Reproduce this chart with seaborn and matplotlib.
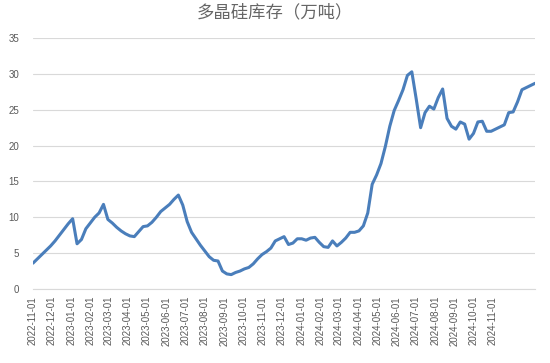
import matplotlib
matplotlib.use("Agg")
import matplotlib.pyplot as plt
import matplotlib.dates as mdates
import seaborn as sns
import pandas as pd
import numpy as np

start_date = "2022-11-01"
inventory = [
    3.6, 4.2, 4.8, 5.4, 6.0, 6.7, 7.5, 8.3, 9.1, 9.8,
    6.3, 6.9, 8.4, 9.2, 10.0, 10.6, 11.8, 9.7, 9.2, 8.6,
    8.1, 7.7, 7.4, 7.3, 8.0, 8.7, 8.8, 9.3, 10.0, 10.8,
    11.3, 11.8, 12.5, 13.1, 11.7, 9.4, 7.9, 7.0, 6.1, 5.3,
    4.5, 4.0, 3.9, 2.5, 2.1, 2.0, 2.3, 2.5, 2.8, 3.0,
    3.5, 4.2, 4.8, 5.2, 5.7, 6.7, 7.0, 7.3, 6.2, 6.4,
    7.0, 7.0, 6.8, 7.1, 7.2, 6.5, 5.9, 5.8, 6.7, 6.0,
    6.5, 7.1, 7.9, 7.9, 8.1, 8.8, 10.6, 14.6, 15.9, 17.5,
    19.9, 22.7, 24.9, 26.3, 27.8, 29.8, 30.3, 26.5, 22.5, 24.6,
    25.5, 25.1, 26.7, 27.9, 23.8, 22.7, 22.3, 23.3, 23.0, 20.9,
    21.7, 23.3, 23.4, 22.0, 22.0, 22.3, 22.6, 22.9, 24.6, 24.7,
    26.1, 27.8, 28.1, 28.4, 28.7,
]
dates = pd.date_range(start_date, periods=len(inventory), freq="7D")
tick_dates = pd.date_range("2022-11-01", "2024-11-01", freq="MS")
y_ticks = [0, 5, 10, 15, 20, 25, 30, 35]
title = "多晶硅库存（万吨）"

df = pd.DataFrame({"date": dates, "value": inventory})

sns.set_theme(style="white")
plt.rcParams["font.family"] = ["Noto Sans CJK SC", "DejaVu Sans"]

fig, ax = plt.subplots(figsize=(5.5, 3.63), dpi=100)
fig.subplots_adjust(left=0.06, right=0.973, top=0.895, bottom=0.204)

sns.lineplot(data=df, x="date", y="value", ax=ax, color="#4a7ebb", linewidth=2.2)

ax.set_ylim(0, 35)
ax.set_yticks(y_ticks)
ax.set_xlim(dates[0], dates[-1])
ax.set_xticks(tick_dates)
ax.xaxis.set_major_formatter(mdates.DateFormatter("%Y-%m-%d"))
ax.set_xlabel("")
ax.set_ylabel("")
ax.grid(axis="y", color="#d9d9d9", linewidth=0.8)
ax.grid(axis="x", visible=False)
for s in ["top", "right", "left"]:
    ax.spines[s].set_visible(False)
ax.spines["bottom"].set_color("#d9d9d9")
ax.spines["bottom"].set_linewidth(0.8)
ax.tick_params(axis="x", labelsize=7, labelcolor="#595959", rotation=90,
               length=3, color="#d9d9d9", width=0.8, pad=2)
ax.tick_params(axis="y", labelsize=7, labelcolor="#595959", length=0, pad=10)
for lab in ax.get_xticklabels():
    lab.set_family(["Liberation Sans", "DejaVu Sans"])
for lab in ax.get_yticklabels():
    lab.set_family(["Liberation Sans", "DejaVu Sans"])

fig.suptitle(title, x=0.5, y=0.966, va="center", fontsize=12.5,
             color="#666666", fontweight="light")

fig.savefig("out.png", dpi=100)
